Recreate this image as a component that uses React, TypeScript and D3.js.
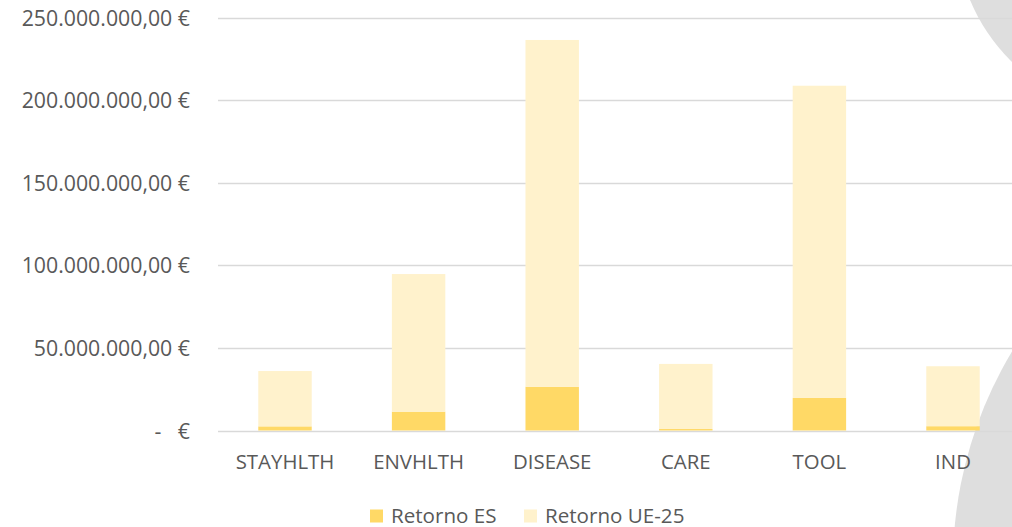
import React from "react";
import * as d3 from "d3";

const categories = ["STAYHLTH", "ENVHLTH", "DISEASE", "CARE", "TOOL", "IND"];
const retornoES = [2.5e6, 11.4e6, 26.5e6, 0.9e6, 19.7e6, 2.6e6];
const retornoUE25 = [33.5e6, 83.3e6, 209.9e6, 39.4e6, 189.0e6, 36.3e6];
const yTicks = [0, 50e6, 100e6, 150e6, 200e6, 250e6];
const seriesNames = ["Retorno ES", "Retorno UE-25"];
const seriesColors = ["#FFD966", "#FFF2CC"];

const W = 1012;
const H = 527;
const FONT = "'Open Sans', 'Noto Sans', sans-serif";
const TEXT = "#595959";

function fmt(v: number): string {
  const s = v.toFixed(2);
  const [i, d] = s.split(".");
  const withDots = i.replace(/\B(?=(\d{3})+(?!\d))/g, ".");
  return `${withDots},${d} €`;
}

export default function App() {
  const x = d3
    .scaleBand<string>()
    .domain(categories)
    .range([218.2, 1019.8])
    .paddingInner(0.6)
    .paddingOuter(0.3);
  const y = d3.scaleLinear().domain([0, 250e6]).range([430.5, 17.5]);

  const rows = categories.map((c, i) => ({ cat: c, es: retornoES[i], ue: retornoUE25[i] }));
  const stack = d3.stack<any>().keys(["es", "ue"])(rows);

  return (
    <svg
      width={W}
      height={H}
      style={{ position: "absolute", left: 0, top: 0, background: "#fff" }}
      fontFamily={FONT}
    >
      <defs>
        <clipPath id="clipAll">
          <rect x={0} y={0} width={W} height={H} />
        </clipPath>
      </defs>
      <g clipPath="url(#clipAll)">
        <circle cx={1142} cy={-71} r={186} fill="#DEDEDE" />
        <circle cx={1365} cy={564} r={412} fill="#DEDEDE" />
      </g>
      {yTicks.map((t) => (
        <line
          key={"g" + t}
          x1={218}
          x2={W}
          y1={Math.round(y(t)) + 0.5}
          y2={Math.round(y(t)) + 0.5}
          stroke="#D9D9D9"
          strokeWidth={1.3}
        />
      ))}
      {stack.map((s, si) => (
        <g key={"s" + si} fill={seriesColors[si]}>
          {s.map((d: any, i: number) => (
            <rect
              key={i}
              x={x(categories[i])}
              width={x.bandwidth()}
              y={y(d[1])}
              height={y(d[0]) - y(d[1])}
            />
          ))}
        </g>
      ))}
      {yTicks.map((t) =>
        t === 0 ? (
          <g key={"l" + t} fill={TEXT} fontSize={21.3}>
            <text x={158} y={y(t) + 8} textAnchor="middle">-</text>
            <text x={190} y={y(t) + 8} textAnchor="end">€</text>
          </g>
        ) : (
          <text key={"l" + t} x={190} y={y(t) + 8} textAnchor="end" fill={TEXT} fontSize={21.3}>
            {fmt(t)}
          </text>
        )
      )}
      {categories.map((c) => (
        <text
          key={"x" + c}
          x={(x(c) as number) + x.bandwidth() / 2}
          y={469}
          textAnchor="middle"
          fill={TEXT}
          fontSize={20.4}
        >
          {c}
        </text>
      ))}
      {seriesNames.map((n, i) => {
        const lx = [370, 524][i];
        return (
          <g key={"lg" + i}>
            <rect x={lx} y={509.5} width={13} height={13} fill={seriesColors[i]} />
            <text x={lx + 21} y={522.5} fill={TEXT} fontSize={20.6}>
              {n}
            </text>
          </g>
        );
      })}
    </svg>
  );
}
